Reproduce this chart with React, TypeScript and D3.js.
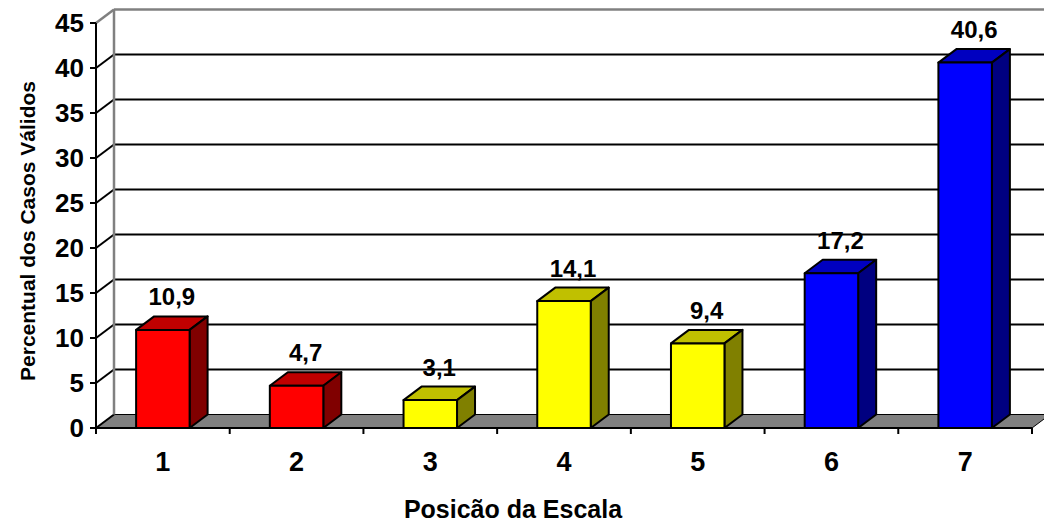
import { useMemo } from "react";
import * as d3 from "d3";

const categories = ["1", "2", "3", "4", "5", "6", "7"];
const values = [10.9, 4.7, 3.1, 14.1, 9.4, 17.2, 40.6];
const valueLabels = ["10,9", "4,7", "3,1", "14,1", "9,4", "17,2", "40,6"];
const groups = ["red", "red", "yellow", "yellow", "yellow", "blue", "blue"];
const yTicks = [0, 5, 10, 15, 20, 25, 30, 35, 40, 45];

const palette: Record<string, { front: string; top: string; side: string }> = {
  red: { front: "#ff0000", top: "#c00000", side: "#800000" },
  yellow: { front: "#ffff00", top: "#c0c000", side: "#808000" },
  blue: { front: "#0000ff", top: "#0000c0", side: "#000080" },
};

const W = 1044;
const H = 522;
const DX = 18;
const DY = -13.5;
const FONT = "'Liberation Sans', Arial, sans-serif";

export default function App() {
  const x = useMemo(
    () => d3.scaleBand().domain(categories).range([96, 1032]).paddingInner(0.6).paddingOuter(0.3),
    [],
  );
  const y = useMemo(() => d3.scaleLinear().domain([0, 45]).range([428, 23]), []);

  const left = 96;
  const right = 1032;
  const y0 = y(0);
  const yTop = y(45);
  const step = x.step();
  const boundaries = d3.range(categories.length + 1).map((i) => left + i * step);

  const poly = (pts: [number, number][]) => pts.map((p) => p.join(",")).join(" ");

  return (
    <svg
      width={W}
      height={H}
      style={{ position: "absolute", left: 0, top: 0, background: "#fff" }}
      fontFamily={FONT}
      fontWeight="bold"
    >
      {/* floor */}
      <polygon
        points={poly([
          [left, y0],
          [right, y0],
          [right + DX, y0 + DY],
          [left + DX, y0 + DY],
        ])}
        fill="#808080"
        stroke="#000"
        strokeWidth={1}
      />

      {/* back wall gridlines and side wall gridlines */}
      {yTicks.map((t) => (
        <g key={t}>
          {t > 0 && t < 45 && (
            <line x1={left + DX} x2={right + DX} y1={y(t) + DY} y2={y(t) + DY} stroke="#000" strokeWidth={2} />
          )}
          {t < 45 && (
            <line x1={left} x2={left + DX} y1={y(t)} y2={y(t) + DY} stroke="#000" strokeWidth={2} />
          )}
        </g>
      ))}

      {/* wall borders */}
      <line x1={left + DX} x2={right + DX} y1={yTop + DY} y2={yTop + DY} stroke="#808080" strokeWidth={2.5} />
      <line x1={left + DX} x2={left + DX} y1={yTop + DY} y2={y0 + DY} stroke="#808080" strokeWidth={2.5} />
      <line x1={left} x2={left + DX} y1={yTop} y2={yTop + DY} stroke="#808080" strokeWidth={2.5} />

      {/* bars */}
      {categories.map((c, i) => {
        const x0 = x(c) ?? 0;
        const x1 = x0 + x.bandwidth();
        const yv = y(values[i]);
        const col = palette[groups[i]];
        return (
          <g key={c} stroke="#000" strokeWidth={2} strokeLinejoin="round">
            <polygon
              points={poly([
                [x0, yv],
                [x1, yv],
                [x1 + DX, yv + DY],
                [x0 + DX, yv + DY],
              ])}
              fill={col.top}
            />
            <polygon
              points={poly([
                [x1, yv],
                [x1 + DX, yv + DY],
                [x1 + DX, y0 + DY],
                [x1, y0],
              ])}
              fill={col.side}
            />
            <rect x={x0} y={yv} width={x1 - x0} height={y0 - yv} fill={col.front} />
            <text
              x={x0 + x.bandwidth() / 2 + DX / 2}
              y={yv + DY - 11}
              textAnchor="middle"
              fontSize={24}
              stroke="none"
              fill="#000"
            >
              {valueLabels[i]}
            </text>
          </g>
        );
      })}

      {/* axes */}
      <line x1={left} x2={left} y1={yTop} y2={y0 + 6} stroke="#000" strokeWidth={2} />
      <line x1={left} x2={right} y1={y0} y2={y0} stroke="#000" strokeWidth={2} />
      {yTicks.map((t) => (
        <g key={`yt${t}`}>
          <line x1={left - 6} x2={left} y1={y(t)} y2={y(t)} stroke="#000" strokeWidth={2} />
          <text x={left - 12} y={y(t)} dy="0.36em" textAnchor="end" fontSize={26} fill="#000">
            {t}
          </text>
        </g>
      ))}
      {boundaries.map((b, i) => (
        <line key={`xt${i}`} x1={b} x2={b} y1={y0} y2={y0 + 6} stroke="#000" strokeWidth={2} />
      ))}
      {categories.map((c) => (
        <text
          key={`xl${c}`}
          x={(x(c) ?? 0) + x.bandwidth() / 2}
          y={471}
          textAnchor="middle"
          fontSize={27}
          fill="#000"
        >
          {c}
        </text>
      ))}

      <text x={513} y={518} textAnchor="middle" fontSize={25} fill="#000">
        Posicão da Escala
      </text>
      <text
        transform="translate(35,231) rotate(-90)"
        textAnchor="middle"
        fontSize={21}
        fill="#000"
      >
        Percentual dos Casos Válidos
      </text>
    </svg>
  );
}
